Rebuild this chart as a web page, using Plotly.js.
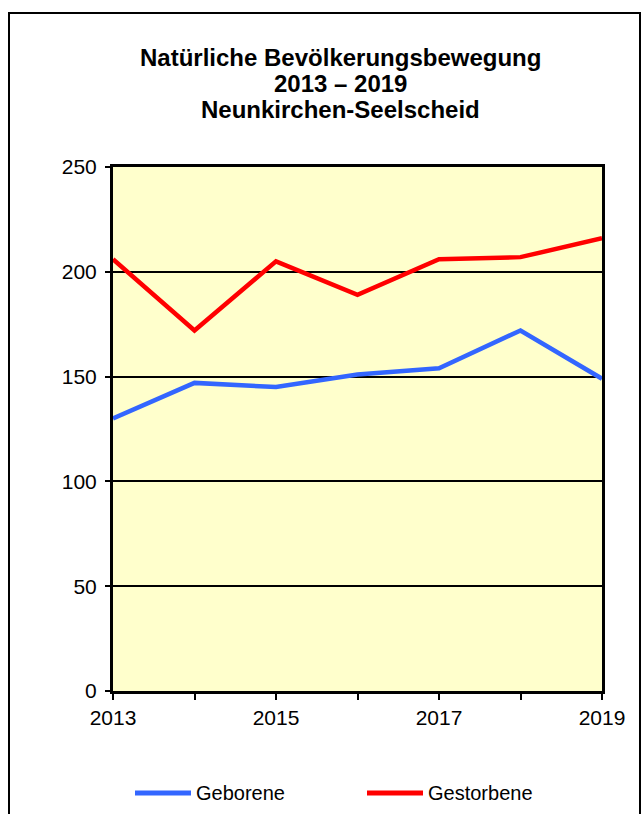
<!DOCTYPE html>
<html>
<head>
<meta charset="utf-8">
<script src="https://cdn.plot.ly/plotly-3.0.1.min.js"></script>
<style>
html,body{margin:0;padding:0;background:#fff;width:641px;height:814px;overflow:hidden;}
#wrap{position:relative;width:641px;height:814px;overflow:hidden;}
#frame{position:absolute;left:8px;top:12px;width:633px;height:820px;border:2px solid #000;box-sizing:border-box;pointer-events:none;z-index:5;}
#chart{position:absolute;left:0;top:0;width:641px;height:814px;}
</style>
</head>
<body>
<div id="wrap">
<div id="chart"></div>
<div id="frame"></div>
</div>
<script>
const years = [2013, 2014, 2015, 2016, 2017, 2018, 2019];
const geborene = [130, 147, 145, 151, 154, 172, 149];
const gestorbene = [206, 172, 205, 189, 206, 207, 216];
const xTickText = ['2013', '', '2015', '', '2017', '', '2019'];
const yTicks = [0, 50, 100, 150, 200, 250];
const titleLines = ['Natürliche Bevölkerungsbewegung', '2013 – 2019', 'Neunkirchen-Seelscheid'];
const seriesNames = ['Geborene', 'Gestorbene'];
const seriesColors = ['#3366FF', '#FF0000'];

const font = 'Liberation Sans, Arial, sans-serif';

const traces = [
  {x: years, y: geborene, name: seriesNames[0], type: 'scatter', mode: 'lines',
   line: {color: seriesColors[0], width: 4.5}},
  {x: years, y: gestorbene, name: seriesNames[1], type: 'scatter', mode: 'lines',
   line: {color: seriesColors[1], width: 4.5}}
];

// plot area in pixels
const L = 113, R = 602, T = 167, B = 691;
const px2x = p => (p - L) / (R - L);
const py2y = p => (B - p) / (B - T);

const titleCenters = [57, 83, 110];
const annotations = titleLines.map((t, i) => ({
  text: '<b>' + t + '</b>',
  xref: 'paper', x: px2x(340), xanchor: 'center',
  yref: 'paper', y: py2y(titleCenters[i]), yanchor: 'middle',
  showarrow: false,
  font: {family: font, size: 24, color: '#000'}
}));

// custom legend
const legendY = 793;
const legendStarts = [135, 367];
const shapes = [];
seriesNames.forEach((n, i) => {
  shapes.push({
    type: 'line', xref: 'paper', yref: 'paper',
    x0: px2x(legendStarts[i]), x1: px2x(legendStarts[i] + 56),
    y0: py2y(legendY), y1: py2y(legendY),
    line: {color: seriesColors[i], width: 5}
  });
  annotations.push({
    text: n, xref: 'paper', yref: 'paper',
    x: px2x(legendStarts[i] + 59), xanchor: 'left',
    y: py2y(legendY), yanchor: 'middle',
    showarrow: false,
    font: {family: font, size: 20, color: '#000'}
  });
});

const layout = {
  width: 641, height: 814,
  margin: {l: L, r: 641 - R, t: T, b: 814 - B, autoexpand: false},
  paper_bgcolor: 'rgba(0,0,0,0)',
  plot_bgcolor: '#FFFFCC',
  font: {family: font, size: 20, color: '#000'},
  annotations: annotations,
  shapes: shapes,
  showlegend: false,
  xaxis: {
    range: [2013, 2019],
    tickvals: years, ticktext: xTickText,
    ticks: 'outside', ticklen: 6, tickwidth: 2, tickcolor: '#000',
    showline: true, linecolor: '#000', linewidth: 3, mirror: true,
    showgrid: false, zeroline: false,
    tickfont: {family: font, size: 21, color: '#000'}
  },
  yaxis: {
    range: [0, 250],
    tickvals: yTicks,
    ticks: 'outside', ticklen: 5, tickwidth: 2, tickcolor: '#000',
    ticklabelstandoff: 4,
    showline: true, linecolor: '#000', linewidth: 3, mirror: true,
    showgrid: true, gridcolor: '#000', gridwidth: 2, zeroline: false,
    tickfont: {family: font, size: 21, color: '#000'}
  }
};

Plotly.newPlot('chart', traces, layout, {displayModeBar: false, staticPlot: true});
</script>
</body>
</html>
